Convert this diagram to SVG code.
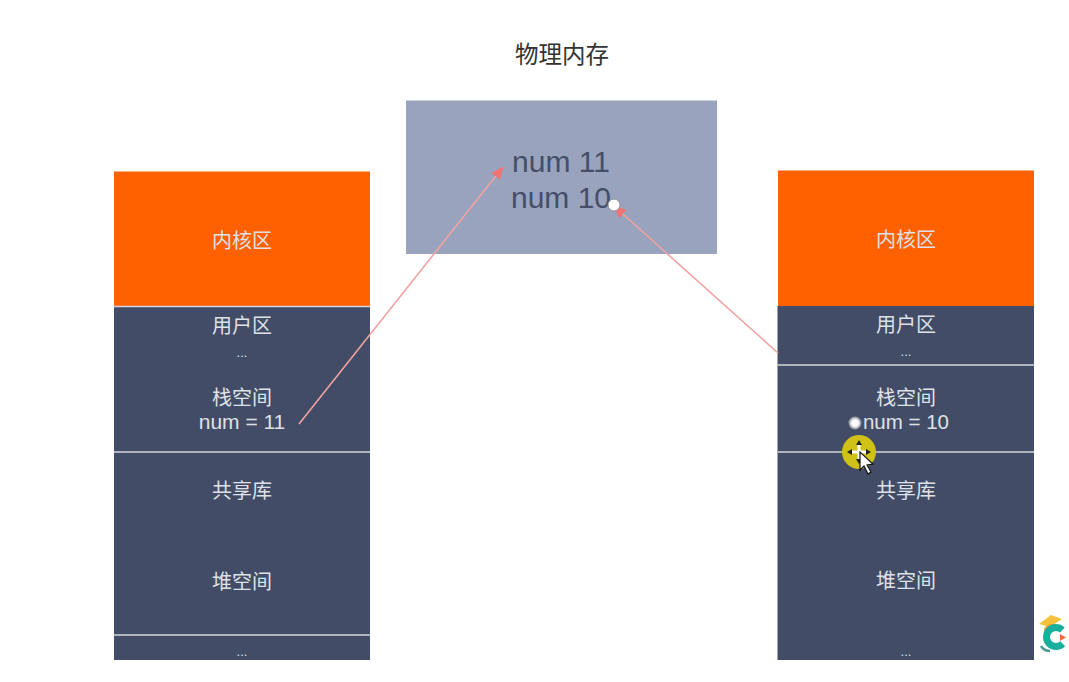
<svg xmlns="http://www.w3.org/2000/svg" width="1069" height="682" viewBox="0 0 1069 682">
<style>
text{font-family:"Liberation Sans","Noto Sans CJK SC",sans-serif;text-anchor:middle}
.w{fill:#dfe1e8;font-size:20px}
.n{fill:#dfe1e8;font-size:21px}
.d{fill:#dfe1e8;font-size:13px}
.o{fill:#ff6000}
.b{fill:#434c66}
.sep{stroke:#d5d7de;stroke-width:1.500}
.m{fill:#454e68;font-size:30px}
.a{stroke:#f0a3a3;stroke-width:1.600;fill:none;marker-end:url(#h)}
</style>
<defs>
<marker id="h" markerWidth="14" markerHeight="12" refX="12" refY="5.500" orient="auto" markerUnits="userSpaceOnUse"><path d="M0 0L13 5.500L0 11z" fill="#ef7474"/></marker>
<radialGradient id="g"><stop offset="0.5" stop-color="#fff"/><stop offset="1" stop-color="#ccc" stop-opacity=".5"/></radialGradient>
</defs>
<rect width="1069" height="682" fill="#fff"/>
<g id="title"><text x="562" y="63" font-size="23.500" fill="#333">物理内存</text></g>
<g id="physical">
<rect x="406" y="100.500" width="311" height="153.500" fill="#99a3bd"/>
<text class="m" x="561" y="172">num 11</text>
<text class="m" x="561" y="208">num 10</text>
</g>
<g id="left-stack">
<rect class="o" x="114" y="171.500" width="256" height="134.500"/>
<rect class="b" x="114" y="306" width="256" height="354"/>
<path class="sep" d="M114 306.500H370M114 452H370M114 635H370"/>
<text class="w" x="242" y="247.500">内核区</text>
<text class="w" x="242" y="332.500">用户区</text>
<text class="d" x="242" y="357">...</text>
<text class="w" x="242" y="404.500">栈空间</text>
<text class="n" x="242" y="429">num = 11</text>
<text class="w" x="242" y="497.500">共享库</text>
<text class="w" x="242" y="588.500">堆空间</text>
<text class="d" x="242" y="656">...</text>
</g>
<g id="right-stack">
<rect class="o" x="778" y="170.500" width="256" height="135.500"/>
<rect class="b" x="777.500" y="306" width="256.500" height="354"/>
<path class="sep" d="M778 365H1034M778 452H1034"/>
<text class="w" x="906" y="246.500">内核区</text>
<text class="w" x="906" y="331.500">用户区</text>
<text class="d" x="906" y="356">...</text>
<text class="w" x="906" y="404.500">栈空间</text>
<text class="n" x="906" y="429" font-size="20.500" style="font-size:20.500px">num = 10</text>
<text class="w" x="906" y="497.500">共享库</text>
<text class="w" x="906" y="587.500">堆空间</text>
<text class="d" x="906" y="656">...</text>
</g>
<g id="connectors">
<path class="a" d="M299 424L503 167"/>
<path class="a" d="M778 353L614 206"/>
</g>
<g id="cursor">
<circle cx="614" cy="205" r="6" fill="#fff" stroke="#8a8f9c" stroke-width="1"/>
<circle cx="855" cy="423" r="6.500" fill="url(#g)"/>
<circle cx="859" cy="452" r="17" fill="#cfc116"/>
<path d="M859 443V461M850 452H868" stroke="#fff" stroke-width="3"/>
<path d="M859 440L856 445H862ZM859 464L856 459H862ZM847 452L852 449V455ZM871 452L866 449V455Z" fill="#222"/>
<path d="M860 452V470L864 466L868 474L871 472L867 465L873 464Z" fill="#fff" stroke="#111" stroke-width="1.200"/>
</g>
<g id="logo">
<path d="M1039 624L1051 615L1062 619L1050 627Z" fill="#f5c33b"/>
<path d="M1044 629Q1048 622 1057 625L1050 633L1045 634Z" fill="#f39c2b"/>
<circle cx="1056" cy="637" r="9.500" fill="none" stroke="#17b09c" stroke-width="7" stroke-dasharray="44 16" transform="rotate(45 1056 637)"/>
<path d="M1060 634L1066 637.500L1060 641Z" fill="#f26a3d"/>
<path d="M1041 646Q1044 651 1050 651" stroke="#4f9c97" stroke-width="2.500" fill="none"/>
</g>
</svg>
